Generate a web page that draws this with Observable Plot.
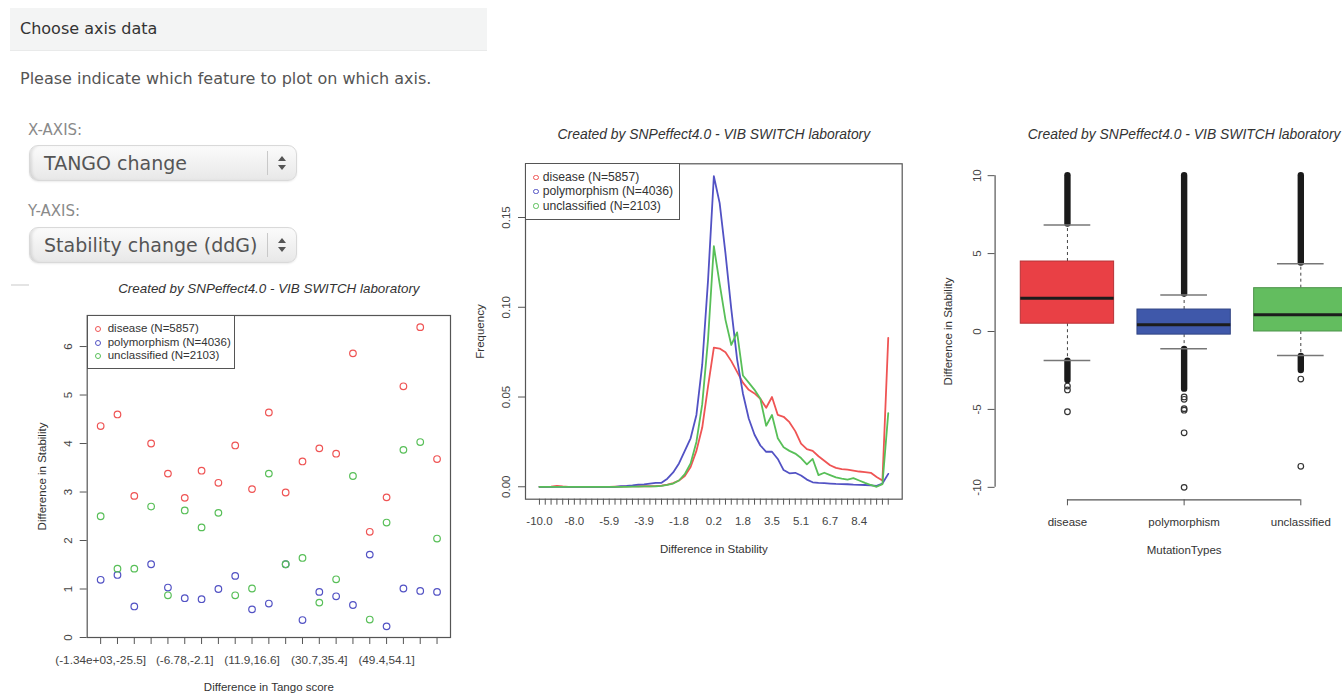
<!DOCTYPE html>
<html><head><meta charset="utf-8">
<script src="https://cdn.jsdelivr.net/npm/d3@7"></script>
<script src="https://cdn.jsdelivr.net/npm/@observablehq/plot@0.6"></script>
<style>
html,body{margin:0;padding:0;background:#fff;}
#page{position:relative;width:1342px;height:693px;overflow:hidden;background:#fff;font-family:"Liberation Sans",Arial,sans-serif;}
.abs{position:absolute;}
.ui{font-family:"DejaVu Sans",Verdana,sans-serif;white-space:nowrap;}
.sel{position:absolute;left:29px;width:266px;height:34px;border-radius:9px;background:linear-gradient(#fbfbfb,#e8e8e8);border:1px solid #d9d9d9;box-shadow:inset 3px 0 3px -1px rgba(0,0,0,0.10),0 1px 2px rgba(0,0,0,0.08);}
.sel .t{position:absolute;left:14px;top:0;line-height:34px;font-size:19px;color:#555;}
.sel .sep{position:absolute;left:237px;top:5px;width:1px;height:24px;background:#c9c9c9;}
.sel .arr{position:absolute;left:247px;top:9px;}
.lg{position:absolute;border:1.2px solid #555;background:#fff;box-sizing:border-box;}
.lg .row{position:absolute;white-space:nowrap;color:#333;}
.lg .c{position:absolute;border-radius:50%;box-sizing:border-box;}
.plotbox{position:absolute;}
</style></head>
<body><div id="page">
  <div class="abs" style="left:10px;top:8px;width:477px;height:42px;background:#f3f4f4;border-bottom:1px solid #e9eaea;"></div>
  <div class="abs ui" style="left:20px;top:8px;line-height:42px;font-size:16px;color:#333;">Choose axis data</div>
  <div class="abs ui" style="left:20px;top:68px;line-height:22px;font-size:16px;color:#555;">Please indicate which feature to plot on which axis.</div>
  <div class="abs ui" style="left:28px;top:120px;line-height:20px;font-size:15px;color:#8a8a8a;">X-AXIS:</div>
  <div class="sel" style="top:145px;"><div class="t ui">TANGO change</div><div class="sep"></div>
    <svg class="arr" width="10" height="16"><path d="M5 1 L9 6 L1 6 Z M5 15 L9 10 L1 10 Z" fill="#555"/></svg></div>
  <div class="abs ui" style="left:28px;top:201px;line-height:20px;font-size:15px;color:#8a8a8a;">Y-AXIS:</div>
  <div class="sel" style="top:227px;"><div class="t ui">Stability change (ddG)</div><div class="sep"></div>
    <svg class="arr" width="10" height="16"><path d="M5 1 L9 6 L1 6 Z M5 15 L9 10 L1 10 Z" fill="#555"/></svg></div>
  <div class="abs" style="left:11px;top:284px;width:18px;height:2px;background:#e4e4e4;"></div>

  <div id="scatter" class="plotbox" style="left:0px;top:280px;width:470px;height:413px;"></div>
  <div id="freq" class="plotbox" style="left:460px;top:120px;width:470px;height:440px;"></div>
  <div id="box" class="plotbox" style="left:930px;top:120px;width:460px;height:440px;"></div>
</div>
<script>
// ---------- shared ----------
const groups = ["disease (N=5857)", "polymorphism (N=4036)", "unclassified (N=2103)"];
const groupColors = ["#ef5454", "#5252c4", "#58bf58"];
const plotTitle = "Created by SNPeffect4.0 - VIB SWITCH laboratory";

// ---------- scatter: mean stability per Tango-score bin ----------
const tangoBins = ["(-1.34e+03,-25.5]","(-25.5,-20.8]","(-20.8,-16.1]","(-16.1,-11.5]","(-11.5,-6.78]","(-6.78,-2.1]","(-2.1,2.58]","(2.58,7.26]","(7.26,11.9]","(11.9,16.6]","(16.6,21.3]","(21.3,26]","(26,30.7]","(30.7,35.4]","(35.4,40.1]","(40.1,44.8]","(44.8,49.4]","(49.4,54.1]","(54.1,58.8]","(58.8,63.5]","(63.5,68.2]"];
const tangoShown = [0, 5, 9, 13, 17];
const stabDisease = [4.36,4.60,2.92,4.00,3.38,2.88,3.44,3.19,3.96,3.06,4.64,2.99,3.63,3.90,3.79,5.86,2.18,2.89,5.18,6.40,3.68];
const stabPoly    = [1.19,1.29,0.64,1.51,1.03,0.81,0.79,1.00,1.27,0.58,0.70,1.51,0.36,0.94,0.85,0.67,1.71,0.23,1.01,0.96,0.94];
const stabUncl    = [2.50,1.42,1.42,2.70,0.87,2.62,2.27,2.57,0.87,1.01,3.38,1.51,1.64,0.72,1.20,3.33,0.37,2.37,3.87,4.03,2.04];
const scatterYTicks = [0, 1, 2, 3, 4, 5, 6];
const scatterYMax = 6.64;

// ---------- frequency polygon of stability change ----------
const freqTickIdx = [0, 6, 12, 18, 24, 30, 35, 40, 45, 50, 55];
const freqTickLabels = ["-10.0","-8.0","-5.9","-3.9","-1.8","0.2","1.8","3.5","5.1","6.7","8.4"];
const freqDisease = [0,0,0.0001,0.0005,0.0002,0,0,0,0,0,
  0,0,0,0.0001,0.0001,0.0002,0.0002,0.0003,0.0003,0.0003,
  0.0004,0.0006,0.0012,0.002,0.0035,0.006,0.011,0.02,0.033,0.056,
  0.0775,0.077,0.075,0.070,0.064,0.058,0.054,0.052,0.049,0.044,
  0.050,0.040,0.039,0.036,0.031,0.024,0.021,0.020,0.017,0.0145,
  0.012,0.0105,0.0098,0.0095,0.009,0.0085,0.0082,0.0078,0.0055,0.0035,
  0.083];
const freqPoly = [0,0,0,0,0,0,0,0,0,0,
  0,0,0,0,0.0003,0.0005,0.0008,0.0012,0.0013,0.0018,
  0.0022,0.0022,0.0045,0.008,0.013,0.02,0.027,0.040,0.068,0.115,
  0.173,0.158,0.13,0.099,0.071,0.052,0.038,0.029,0.023,0.0195,
  0.0195,0.0155,0.0093,0.0075,0.0078,0.0063,0.004,0.0025,0.0022,0.002,
  0.0018,0.0016,0.0015,0.0014,0.0012,0.0011,0.001,0.0008,0.0005,0.0018,
  0.0072];
const freqUncl = [0,0,0,0,0,0,0,0,0,0,
  0,0,0,0,0,0,0.0001,0.0001,0.0002,0.0002,
  0.0003,0.0005,0.001,0.0018,0.0035,0.007,0.013,0.025,0.046,0.082,
  0.134,0.113,0.093,0.079,0.086,0.062,0.058,0.054,0.049,0.034,
  0.040,0.027,0.022,0.020,0.0185,0.016,0.0125,0.0155,0.0065,0.0078,
  0.0065,0.0052,0.0045,0.004,0.0048,0.0035,0.0022,0.001,0.0,0.0015,
  0.041];
const freqYTicks = [0, 0.05, 0.10, 0.15];
const freqYLabels = ["0.00", "0.05", "0.10", "0.15"];
const freqYMax = 0.173;

// ---------- boxplot of stability per mutation type ----------
const boxCats = ["disease", "polymorphism", "unclassified"];
const boxFills = ["#e94045", "#3f58aa", "#63bd5f"];
const boxQ1  = [0.50, -0.20, 0.00];
const boxMed = [2.13, 0.43, 1.08];
const boxQ3  = [4.49, 1.41, 2.78];
const boxLo  = [-1.86, -1.11, -1.54];
const boxHi  = [6.84, 2.35, 4.34];
const bandUpLo = [6.9, 2.4, 4.4];
const bandUpHi = [10, 10, 10];
const bandDnHi = [-1.9, -1.15, -1.6];
const bandDnLo = [-3.15, -3.7, -2.5];
const outDisease = [-3.5, -3.75, -5.15];
const outPoly = [-4.2, -4.35, -4.95, -5.05, -6.5, -10.0];
const outUncl = [-3.05, -8.65];
const boxYTicks = [-10, -5, 0, 5, 10];

// ---------- helpers ----------
const baseStyle = {fontFamily: '"Liberation Sans", Arial, sans-serif', fontSize: "11.5px", color: "#333", background: "transparent", overflow: "visible"};
const txt = (o) => Object.assign({textAnchor: "middle", lineAnchor: "middle", fill: "#333", fontSize: 11.5}, o);

function legend(parent, left, top, w, h, rowYs, cx, tx, fs, r) {
  const lg = document.createElement("div");
  lg.className = "lg";
  Object.assign(lg.style, {left: left + "px", top: top + "px", width: w + "px", height: h + "px"});
  groups.forEach((g, k) => {
    const c = document.createElement("div");
    c.className = "c";
    Object.assign(c.style, {left: (cx - r) + "px", top: (rowYs[k] - r) + "px", width: 2 * r + "px", height: 2 * r + "px", border: "1.2px solid " + groupColors[k]});
    lg.appendChild(c);
    const t = document.createElement("div");
    t.className = "row";
    t.textContent = g;
    Object.assign(t.style, {left: tx + "px", top: (rowYs[k] - fs * 0.6) + "px", fontSize: fs + "px", lineHeight: (fs * 1.2) + "px"});
    lg.appendChild(t);
  });
  document.getElementById("page").appendChild(lg);
}

// ---------- scatter ----------
{
  const rows = [];
  tangoBins.forEach((b, i) => {
    rows.push({i, g: groups[0], v: stabDisease[i]});
    rows.push({i, g: groups[1], v: stabPoly[i]});
    rows.push({i, g: groups[2], v: stabUncl[i]});
  });
  const n = tangoBins.length, pad = 0.04 * (n - 1);
  const p = Plot.plot({
    width: 470, height: 413,
    marginLeft: 86.7, marginRight: 20, marginTop: 35, marginBottom: 56,
    x: {domain: [-pad, n - 1 + pad], axis: null},
    y: {domain: [0, scatterYMax], axis: null},
    color: {domain: groups, range: groupColors},
    style: baseStyle,
    marks: [
      Plot.axisY(scatterYTicks, {anchor: "left", tickSize: 7, tickFormat: () => "", label: null, stroke: "#555"}),
      Plot.text(scatterYTicks, txt({y: d => d, text: d => String(d), frameAnchor: "left", rotate: -90, dx: -18.5, fill: "#444"})),
      Plot.axisX(d3.range(n), {anchor: "bottom", tickSize: 7, tickFormat: () => "", label: null, stroke: "#555"}),
      Plot.text(tangoShown, txt({x: d => d, text: d => tangoBins[d], frameAnchor: "bottom", dy: 23, fill: "#444", fontSize: 11.8})),
      Plot.frame({stroke: "#555", strokeWidth: 1.2}),
      Plot.dot(rows, {x: "i", y: "v", stroke: "g", r: 3.3, strokeWidth: 1.2}),
      Plot.text([plotTitle], txt({text: d => d, frameAnchor: "top", dy: -27, fontStyle: "italic", fontSize: 13.4})),
      Plot.text(["Difference in Tango score"], txt({text: d => d, frameAnchor: "bottom", dy: 50})),
      Plot.text(["Difference in Stability"], txt({text: d => d, frameAnchor: "left", rotate: -90, dx: -44.7}))
    ]
  });
  document.getElementById("scatter").appendChild(p);
  legend(null, 86.7, 315, 148.5, 53.5, [13.3, 26.7, 40], 10.3, 20, 11.5, 3.2);
}

// ---------- frequency polygon ----------
{
  const rows = [];
  freqDisease.forEach((v, i) => rows.push({i, g: groups[0], v}));
  freqPoly.forEach((v, i) => rows.push({i, g: groups[1], v}));
  freqUncl.forEach((v, i) => rows.push({i, g: groups[2], v}));
  const n = freqDisease.length, pad = 0.04 * (n - 1), ypad = 0.04 * freqYMax;
  const p = Plot.plot({
    width: 470, height: 440,
    marginLeft: 65, marginRight: 28.3, marginTop: 43.3, marginBottom: 61.3,
    x: {domain: [-pad, n - 1 + pad], axis: null},
    y: {domain: [-ypad, freqYMax + ypad], axis: null},
    color: {domain: groups, range: groupColors},
    style: baseStyle,
    marks: [
      Plot.axisY(freqYTicks, {anchor: "left", tickSize: 7, tickFormat: () => "", label: null, stroke: "#555"}),
      Plot.text(freqYTicks, txt({y: d => d, text: (d, k) => freqYLabels[k], frameAnchor: "left", rotate: -90, dx: -19.5, fill: "#444"})),
      Plot.axisX(d3.range(n), {anchor: "bottom", tickSize: 6, tickFormat: () => "", label: null, stroke: "#555"}),
      Plot.text(freqTickIdx, txt({x: d => d, text: (d, k) => freqTickLabels[k], frameAnchor: "bottom", dy: 22.5, fill: "#444", fontSize: 11.5})),
      Plot.frame({stroke: "#555", strokeWidth: 1.2}),
      Plot.line(rows, {x: "i", y: "v", z: "g", stroke: "g", strokeWidth: 1.8}),
      Plot.text([plotTitle], txt({text: d => d, frameAnchor: "top", dy: -29, fontStyle: "italic", fontSize: 13.9})),
      Plot.text(["Difference in Stability"], txt({text: d => d, frameAnchor: "bottom", dy: 50.3})),
      Plot.text(["Frequency"], txt({text: d => d, frameAnchor: "left", rotate: -90, dx: -45}))
    ]
  });
  document.getElementById("freq").appendChild(p);
  legend(null, 525, 163.3, 154.5, 56.5, [13.4, 27.4, 41.7], 10, 16.7, 12.2, 2.7);
}

// ---------- boxplot ----------
{
  const n = boxCats.length;
  const boxes = boxCats.map((c, k) => ({c, pos: k + 1, q1: boxQ1[k], med: boxMed[k], q3: boxQ3[k], lo: boxLo[k], hi: boxHi[k], fill: boxFills[k], stroke: d3.color(boxFills[k]).darker(0.7).formatHex()}));
  const bands = [];
  boxCats.forEach((c, k) => {
    bands.push({pos: k + 1, a: bandUpLo[k], b: bandUpHi[k]});
    bands.push({pos: k + 1, a: bandDnLo[k], b: bandDnHi[k]});
  });
  const outs = [];
  [outDisease, outPoly, outUncl].forEach((arr, k) => arr.forEach(v => outs.push({pos: k + 1, v})));
  const xpad = 0.04 * n, xDom = [0.5 - xpad, n + 0.5 + xpad];
  const yr = boxYTicks[boxYTicks.length - 1] - boxYTicks[0], yDom = [boxYTicks[0] - 0.04 * yr, boxYTicks[boxYTicks.length - 1] + 0.04 * yr];
  const p = Plot.plot({
    width: 460, height: 440,
    marginLeft: 64.6, marginRight: 17.35, marginTop: 42.7, marginBottom: 60.7,
    x: {domain: xDom, axis: null},
    y: {domain: yDom, axis: null},
    style: baseStyle,
    marks: [
      Plot.ruleX([xDom[0]], {y1: boxYTicks[0], y2: boxYTicks[boxYTicks.length - 1], stroke: "#555", strokeWidth: 1.2}),
      Plot.axisY(boxYTicks, {anchor: "left", tickSize: 7, tickFormat: () => "", label: null, stroke: "#555"}),
      Plot.text(boxYTicks, txt({y: d => d, text: d => String(d), frameAnchor: "left", rotate: -90, dx: -18, fill: "#444"})),
      Plot.ruleY([yDom[0]], {x1: 1, x2: n, stroke: "#555", strokeWidth: 1.2}),
      Plot.axisX(d3.range(1, n + 1), {anchor: "bottom", tickSize: 6, tickFormat: () => "", label: null, stroke: "#555"}),
      Plot.text(d3.range(1, n + 1), txt({x: d => d, text: d => boxCats[d - 1], frameAnchor: "bottom", dy: 22.7})),
      Plot.ruleX(boxes, {x: "pos", y1: "q3", y2: "hi", stroke: "#444", strokeDasharray: "3,3"}),
      Plot.ruleX(boxes, {x: "pos", y1: "q1", y2: "lo", stroke: "#444", strokeDasharray: "3,3"}),
      Plot.ruleX(bands, {x: "pos", y1: "a", y2: "b", stroke: "#1a1a1a", strokeWidth: 6.4, strokeLinecap: "round"}),
      Plot.dot(outs, {x: "pos", y: "v", r: 2.8, stroke: "#333", strokeWidth: 1.2}),
      Plot.ruleY(boxes, {y: "hi", x1: d => d.pos - 0.2, x2: d => d.pos + 0.2, stroke: "#777", strokeWidth: 1.5}),
      Plot.ruleY(boxes, {y: "lo", x1: d => d.pos - 0.2, x2: d => d.pos + 0.2, stroke: "#777", strokeWidth: 1.5}),
      Plot.rect(boxes, {x1: d => d.pos - 0.4, x2: d => d.pos + 0.4, y1: "q1", y2: "q3", fill: "fill", stroke: "stroke", strokeWidth: 1}),
      Plot.ruleY(boxes, {y: "med", x1: d => d.pos - 0.4, x2: d => d.pos + 0.4, stroke: "#1c1c1c", strokeWidth: 3}),
      Plot.text([plotTitle], txt({text: d => d, frameAnchor: "top", dy: -29, fontStyle: "italic", fontSize: 13.9})),
      Plot.text(["MutationTypes"], txt({text: d => d, frameAnchor: "bottom", dy: 50.7})),
      Plot.text(["Difference in Stability"], txt({text: d => d, frameAnchor: "left", rotate: -90, dx: -46.6}))
    ]
  });
  document.getElementById("box").appendChild(p);
}
</script>
</body></html>
